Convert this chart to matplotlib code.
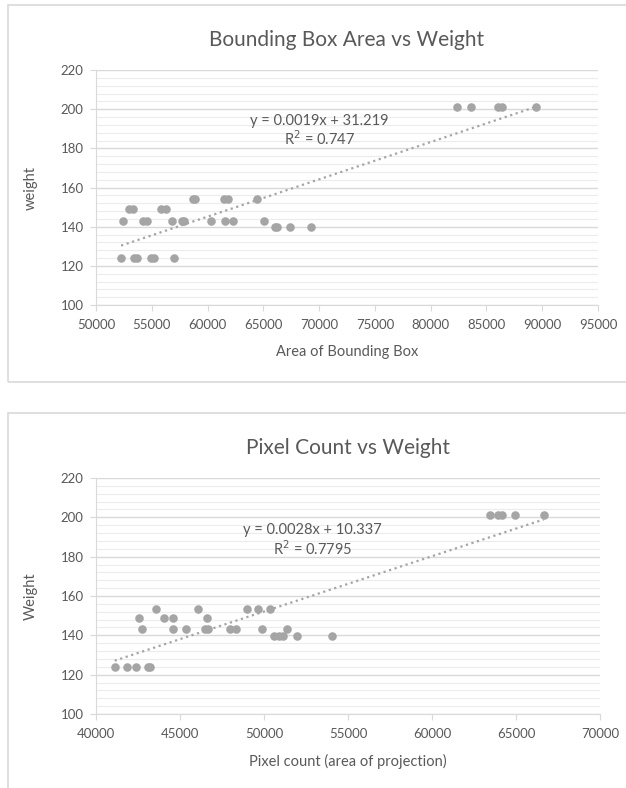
import numpy as np
from matplotlib import pyplot as plt
from matplotlib.patches import Rectangle
from matplotlib.ticker import MultipleLocator

# Bounding box area vs weight
bbox_area = [52250, 53390, 53640, 54900, 55240, 57000,
             52990, 53300, 55860, 56290,
             52440, 54230, 54530, 56850, 57710, 57870, 60300, 61600, 62300, 65050,
             58700, 58880, 61470, 61850, 64440,
             66040, 66260, 67370, 69280,
             82390, 83620, 86000, 86400, 89480]
bbox_weight = [124, 124, 124, 124, 124, 124,
               149, 149, 149, 149,
               143, 143, 143, 143, 143, 143, 143, 143, 143, 143,
               154, 154, 154, 154, 154,
               140, 140, 140, 140,
               201, 201, 201, 201, 201]

# Pixel count vs weight
pix_count = [41110, 41850, 42370, 43070, 43190,
             43580, 46070, 48980, 49640, 50380,
             42530, 44060, 44610, 46590,
             42760, 44610, 45370, 46460, 46690, 47990, 48360, 49900, 51390,
             50600, 50910, 51160, 51980, 54040,
             63450, 63920, 64170, 64970, 66640]
pix_weight = [124, 124, 124, 124, 124,
              153.5, 153.5, 153.5, 153.5, 153.5,
              149, 149, 149, 149,
              143, 143, 143, 143, 143, 143, 143, 143, 143,
              139.5, 139.5, 139.5, 139.5, 139.5,
              201, 201, 201, 201, 201]

TXT = '#595959'
GRID = '#d9d9d9'
DOT = '#a5a5a5'

plt.rcParams['font.family'] = ['Lato', 'DejaVu Sans']

fig = plt.figure(figsize=(6.26, 7.88), dpi=100)

# chart frames
for y0, h in [(1 - 382 / 788, 377 / 788), (-0.01, 1 - 413 / 788 + 0.01)]:
    fig.patches.append(Rectangle((8 / 626, y0), 1.0, h, transform=fig.transFigure,
                                 fill=False, edgecolor=GRID, lw=1.2))


def draw(rect, x, y, title, xlabel, ylabel, xlim, xstep, eq, r2, eq_pos):
    ax = fig.add_axes(rect)
    ax.scatter(x, y, s=38, color=DOT, zorder=3, linewidths=0)

    # linear trendline
    m, b = np.polyfit(x, y, 1)
    xs = np.array([min(x), max(x)])
    ax.plot(xs, m * xs + b, ls=(0, (1, 1.6)), lw=1.6, color=DOT, zorder=2)

    ax.text(eq_pos[0], eq_pos[1], eq, ha='center', va='center', fontsize=10.5, color=TXT)
    ax.text(eq_pos[0], eq_pos[1] - 9.4, r2, ha='center', va='center', fontsize=10.5, color=TXT)

    ax.set_xlim(*xlim)
    ax.set_ylim(100, 220)
    ax.xaxis.set_major_locator(MultipleLocator(xstep))
    ax.yaxis.set_major_locator(MultipleLocator(20))
    ax.yaxis.set_minor_locator(MultipleLocator(4))
    ax.grid(which='major', axis='y', color=GRID, lw=1)
    ax.grid(which='minor', axis='y', color='#ececec', lw=0.8)
    ax.set_axisbelow(True)
    ax.tick_params(which='minor', length=0)
    ax.tick_params(which='major', direction='out', length=4, color=GRID,
                   labelcolor=TXT, labelsize=9.5)
    ax.tick_params(axis='x', pad=6)
    ax.tick_params(axis='y', pad=5)
    for s in ['top', 'right']:
        ax.spines[s].set_visible(False)
    for s in ['left', 'bottom']:
        ax.spines[s].set_color(GRID)

    ax.set_title(title, fontsize=15, color=TXT, pad=17)
    ax.set_xlabel(xlabel, fontsize=10.5, color=TXT, labelpad=10)
    ax.set_ylabel(ylabel, fontsize=10.5, color=TXT, labelpad=16)
    return ax


draw([96 / 626, 1 - 305 / 788, 502 / 626, 235 / 788], bbox_area, bbox_weight,
     'Bounding Box Area vs Weight', 'Area of Bounding Box', 'weight',
     (50000, 95000), 5000, 'y = 0.0019x + 31.219', 'R$^2$ = 0.747', (70040, 194.1))

draw([96 / 626, 1 - 714 / 788, 504 / 626, 236 / 788], pix_count, pix_weight,
     'Pixel Count vs Weight', 'Pixel count (area of projection)', 'Weight',
     (40000, 70000), 5000, 'y = 0.0028x + 10.337', 'R$^2$ = 0.7795', (52890, 193.6))

fig.savefig('out.png', dpi=100)
